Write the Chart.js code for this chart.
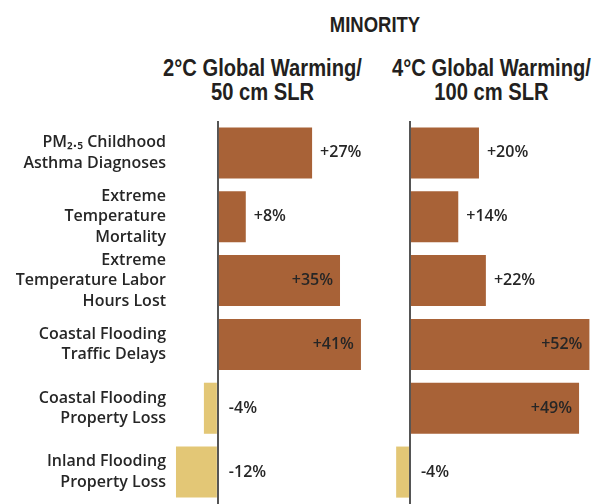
<!DOCTYPE html>
<html>
<head>
<meta charset="utf-8">
<script src="https://cdn.jsdelivr.net/npm/chart.js@4"></script>
<style>
    body { margin: 0; background: #ffffff; }
    #wrap { position: relative; width: 592px; height: 504px; overflow: hidden; }
    .head {
        position: absolute;
        font-family: "Liberation Sans", Arial, sans-serif;
        font-weight: bold;
        color: #231f20;
        text-align: center;
        white-space: nowrap;
        transform: scaleX(0.84);
        transform-origin: 50% 0;
    }
    #minority { left: 225px; top: 14px; width: 300px; font-size: 22px; line-height: 22px; }
    #head1 { left: 112px; top: 56px; width: 301px; font-size: 24px; line-height: 24px; }
    #head2 { left: 341px; top: 56px; width: 301px; font-size: 24px; line-height: 24px; }
    canvas { position: absolute; }
</style>
</head>
<body>
<div id="wrap">
    <div class="head" id="minority">MINORITY</div>
    <div class="head" id="head1">2°C Global Warming/<br>50 cm SLR</div>
    <div class="head" id="head2">4°C Global Warming/<br>100 cm SLR</div>
    <canvas id="chartLeft" width="380" height="383" style="left:0px; top:121px; width:380px; height:383px;"></canvas>
    <canvas id="chartRight" width="210" height="383" style="left:382px; top:121px; width:210px; height:383px;"></canvas>
</div>
<script>
// Impact categories (multi-line labels)
const categories = [
    ['PM₂.₅ Childhood', 'Asthma Diagnoses'],
    ['Extreme', 'Temperature', 'Mortality'],
    ['Extreme', 'Temperature Labor', 'Hours Lost'],
    ['Coastal Flooding', 'Traffic Delays'],
    ['Coastal Flooding', 'Property Loss'],
    ['Inland Flooding', 'Property Loss']
];

// Percent change for the minority group, per scenario
const warming2C = [27, 8, 35, 41, -4, -12];
const warming4C = [20, 14, 22, 52, 49, -4];

const brown = '#A86237';
const tan = '#E3C776';
const textColour = '#262626';

// Values from this size up get their label inside the bar
const insideThreshold = 30;

Chart.defaults.font.family = '"Open Sans", "DejaVu Sans", sans-serif';
Chart.defaults.color = textColour;

// Writes "+27%" style labels next to (or inside) each bar
const valueLabels = {
    id: 'valueLabels',
    afterDatasetsDraw(chart) {
        const ctx = chart.ctx;
        const xScale = chart.scales.x;
        const zero = xScale.getPixelForValue(0);
        const meta = chart.getDatasetMeta(0);
        const values = chart.data.datasets[0].data;
        ctx.save();
        ctx.font = '600 16px "Open Sans", "DejaVu Sans", sans-serif';
        ctx.fillStyle = textColour;
        ctx.textBaseline = 'middle';
        meta.data.forEach((bar, i) => {
            const v = values[i];
            const text = (v > 0 ? '+' : '') + v + '%';
            if (v < 0) {
                ctx.textAlign = 'left';
                ctx.fillText(text, zero + 11, bar.y);
            } else if (v >= insideThreshold) {
                ctx.textAlign = 'right';
                ctx.fillText(text, bar.x - 7, bar.y);
            } else {
                ctx.textAlign = 'left';
                ctx.fillText(text, bar.x + 8, bar.y);
            }
        });
        ctx.restore();
    }
};

function barColours(c) {
    return c.raw < 0 ? tan : brown;
}

// Shared value axis: only a dark line at zero, drawn over the bars
function zeroAxis(min, max) {
    return {
        min: min,
        max: max,
        z: 1,
        afterBuildTicks: (scale) => { scale.ticks = [{ value: 0 }]; },
        afterFit: (scale) => { scale.paddingLeft = 0; scale.paddingRight = 0; },
        ticks: { display: false },
        border: { display: false },
        grid: {
            color: '#555555',
            lineWidth: 2,
            drawTicks: false
        }
    };
}

// 2°C / 50 cm chart (carries the category labels)
const chartLeftConfig = {
    type: 'bar',
    data: {
        labels: categories,
        datasets: [{
            data: warming2C,
            backgroundColor: barColours,
            barPercentage: 1,
            categoryPercentage: 0.8
        }]
    },
    options: {
        indexAxis: 'y',
        responsive: false,
        animation: false,
        layout: { padding: 0 },
        scales: {
            x: zeroAxis(-14, 46.46),
            y: {
                afterFit: (scale) => {
                    scale.width = 169;
                    scale.paddingTop = 0;
                    scale.paddingBottom = 0;
                },
                grid: { display: false, drawTicks: false },
                border: { display: false },
                ticks: {
                    autoSkip: false,
                    padding: 3,
                    color: textColour,
                    font: { size: 16, weight: '600', lineHeight: 1.28 }
                }
            }
        },
        plugins: {
            legend: { display: false },
            tooltip: { enabled: false }
        }
    },
    plugins: [valueLabels]
};

const chartLeft = new Chart('chartLeft', chartLeftConfig);

// 4°C / 100 cm chart
const chartRightConfig = {
    type: 'bar',
    data: {
        labels: categories,
        datasets: [{
            data: warming4C,
            backgroundColor: barColours,
            barPercentage: 1,
            categoryPercentage: 0.8
        }]
    },
    options: {
        indexAxis: 'y',
        responsive: false,
        animation: false,
        layout: { padding: 0 },
        scales: {
            x: zeroAxis(-8.1, 52.75),
            y: { display: false }
        },
        plugins: {
            legend: { display: false },
            tooltip: { enabled: false }
        }
    },
    plugins: [valueLabels]
};

const chartRight = new Chart('chartRight', chartRightConfig);
</script>
</body>
</html>
